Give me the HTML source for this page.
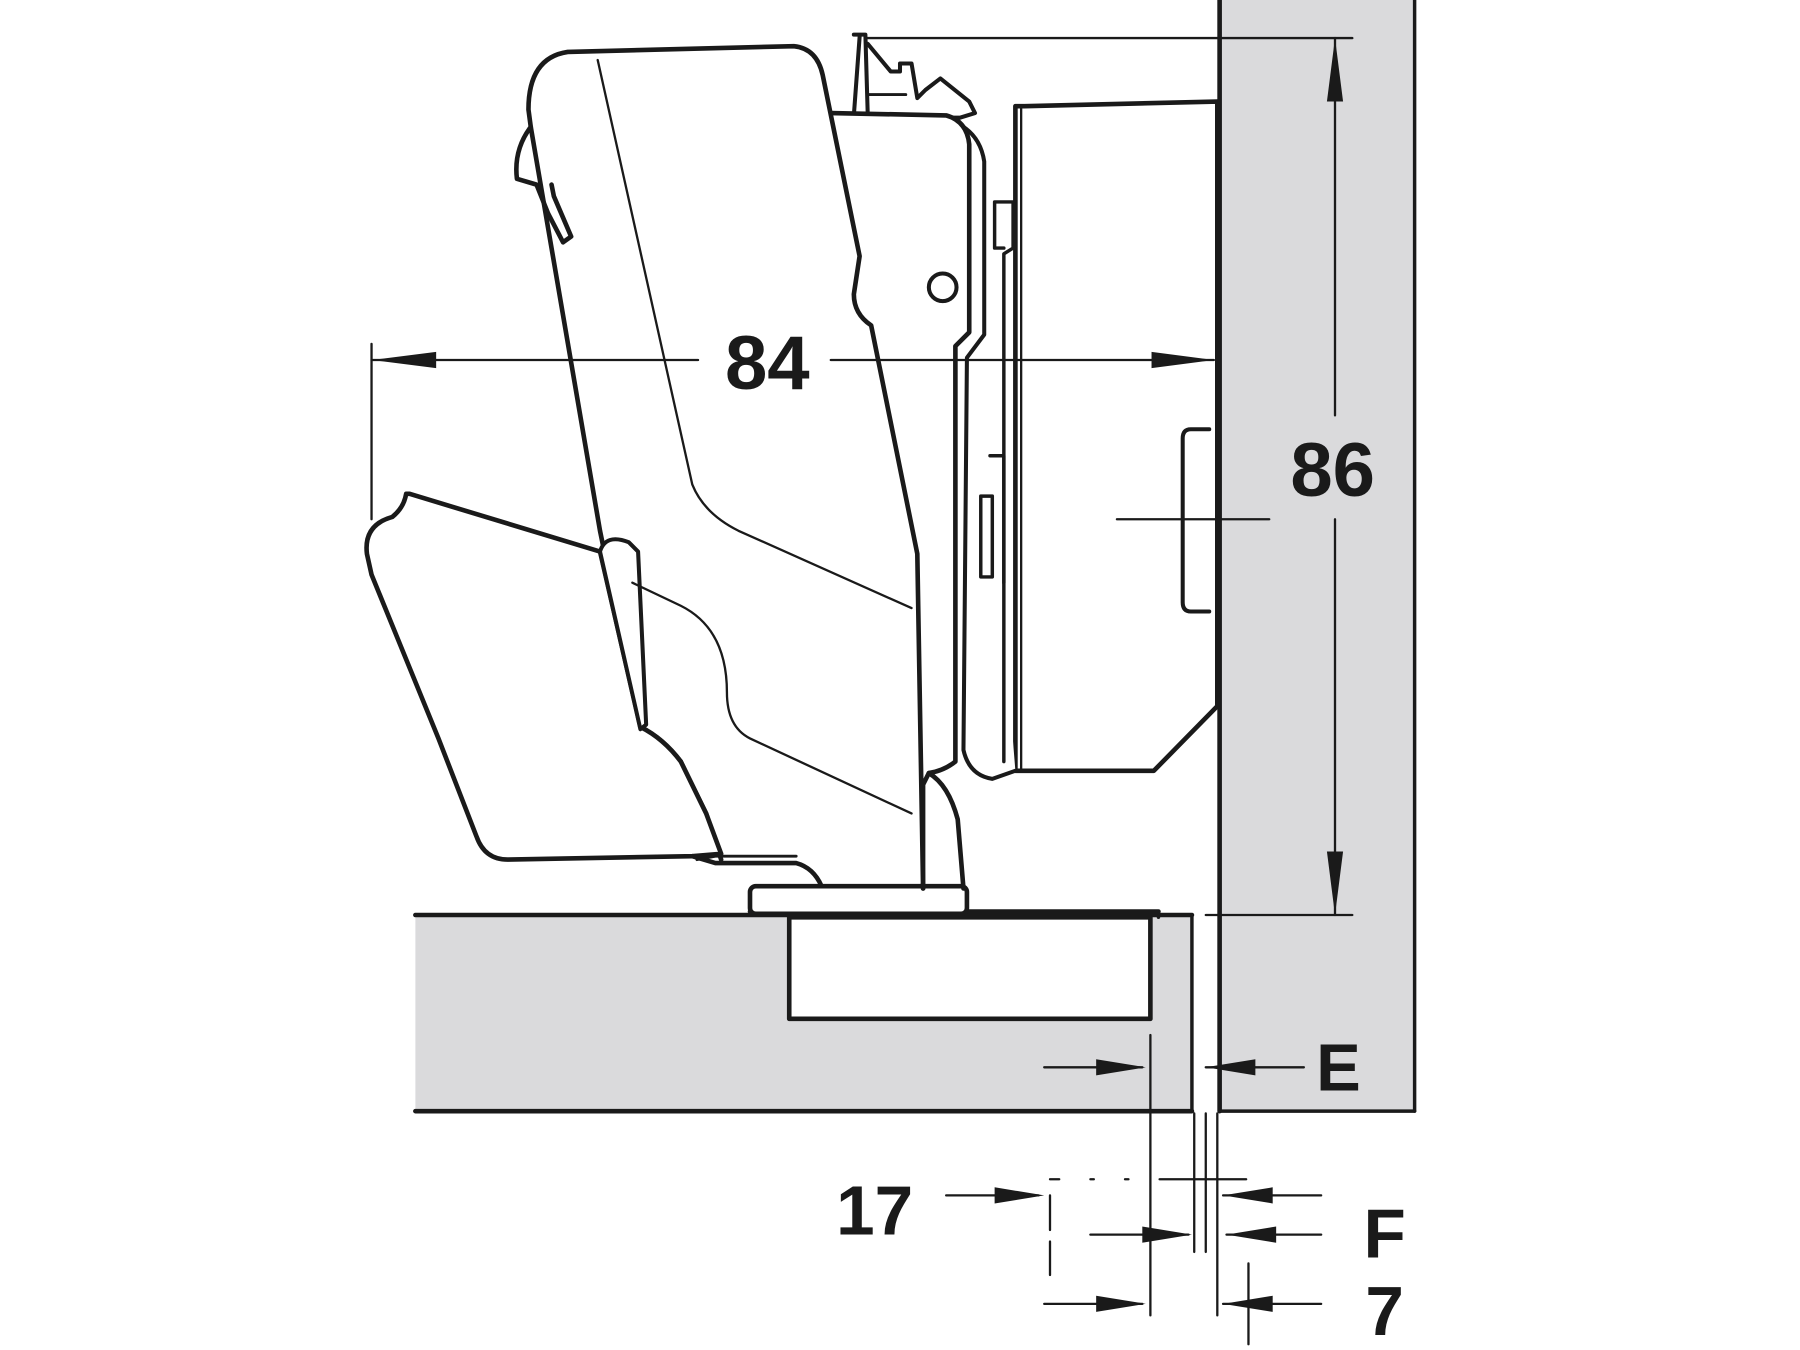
<!DOCTYPE html>
<html><head><meta charset="utf-8"><style>
html,body{margin:0;padding:0;background:#fff;}
svg{display:block}
text{font-family:"Liberation Sans",Arial,sans-serif;font-weight:bold;fill:#1a1a1a}
</style></head><body>
<svg width="1800" height="1350" viewBox="0 0 1560 1170" preserveAspectRatio="none" xmlns="http://www.w3.org/2000/svg">
<g fill="none" stroke="#1a1a1a" stroke-linejoin="round" stroke-linecap="round">
<!-- gray panels -->
<rect x="1057" y="0" width="169" height="963" fill="#dadadc" stroke="none"/>
<rect x="360" y="793" width="673" height="170" fill="#dadadc" stroke="none"/>
<line x1="1057" y1="0" x2="1057" y2="963" stroke-width="4"/>
<line x1="1226" y1="0" x2="1226" y2="963" stroke-width="3"/>
<line x1="1057" y1="963" x2="1226" y2="963" stroke-width="3"/>
<line x1="360" y1="793" x2="1033" y2="793" stroke-width="4"/>
<line x1="360" y1="963" x2="1033" y2="963" stroke-width="4"/>
<line x1="1033" y1="793" x2="1033" y2="963" stroke-width="3"/>
<!-- cup -->
<rect x="684" y="795" width="313" height="88" fill="#fff" stroke-width="4"/>
<line x1="650" y1="790" x2="1004" y2="790" stroke-width="4"/>
<path d="M1004 790 L1004 795" stroke-width="3"/>
<!-- base plate -->
<rect x="650" y="768" width="188" height="24" rx="5" fill="#fff" stroke-width="4"/>
<!-- right hinge body -->
<path d="M888 92 L1055 88 L1055 612 L1000 668 L880 668 L880 92 Z" fill="#fff" stroke-width="4"/>
<path d="M1048 372 L1032 372 Q1025 372 1025 380 L1025 522 Q1025 530 1032 530 L1048 530" stroke-width="3.5"/>
<!-- middle plate -->
<path d="M835 110 Q850 120 853 140 L853 290 L838 310 L835 650 Q840 672 860 675 L880 668" fill="#fff" stroke-width="3.5"/>
<path d="M862 175 L878 175 L878 215 L870 220 L870 660 M862 175 L862 215 L870 215" stroke-width="3"/>
<path d="M858 395 L870 395 L870 505 M850 430 L850 500 L860 500 L860 430 Z" stroke-width="3"/>
<path d="M885 92 L885 668" stroke-width="2"/>
<!-- top mechanism -->
<path d="M740 30 L750 30 L752 98 M745 32 L740 100 M752 38 L772 62 L780 62 L780 55 L790 55 L795 85 L802 78 L815 68 L840 88 L845 98 L832 102 L720 102" stroke-width="3.5"/>
<path d="M752 82 L785 82" stroke-width="2.5"/>
<!-- main arm -->
<path d="M720 98 L820 100 Q838 105 840 125 L840 288 L828 300 L828 660 Q818 668 805 670 L800 680 L800 770" fill="#fff" stroke-width="4"/>
<path d="M492 45 L688 40 Q708 42 713 65 L745 222 L740 255 Q740 272 755 282 L795 480 L800 770 M492 45 Q458 50 458 95 L460 110 Q445 130 448 155 L465 160 L475 185 L488 210 L495 205 L480 170 L478 160" fill="#fff" stroke-width="4"/>
<path d="M460 110 L520 460 L555 630 Q575 640 590 660 L612 705 Q620 730 625 745" stroke-width="4"/>
<path d="M518 52 L600 420 Q610 445 640 460 L790 527" stroke-width="2"/>
<path d="M805 670 Q822 680 830 710 L835 770" stroke-width="4"/>
<circle cx="817" cy="249" r="12" stroke-width="3.5"/>
<!-- lower cover -->
<path d="M355 428 L520 478 L555 630 Q575 640 590 660 L612 705 L625 740 L600 742 L440 745 Q420 745 413 725 L380 640 L322 498 L318 480 Q315 455 340 448 Q350 440 352 428 Z" fill="#fff" stroke-width="4"/>
<path d="M520 478 Q525 462 545 470 L553 478 L560 628 L555 632 Z" fill="#fff" stroke-width="3.5"/>
<path d="M548 505 L590 525 Q630 545 630 600 Q630 630 650 640 L790 705" stroke-width="2"/>
<path d="M600 742 L620 748 L690 748 Q705 752 712 768" stroke-width="4"/>
<path d="M604 745 L620 742 L690 742" stroke-width="2.5"/>
<!-- dimension 84 -->
<line x1="322" y1="298" x2="322" y2="450" stroke-width="2"/>
<line x1="322" y1="312" x2="605" y2="312" stroke-width="2"/>
<line x1="720" y1="312" x2="1052" y2="312" stroke-width="2"/>
<path d="M322 312 L378 305 L378 319 Z M1052 312 L998 305 L998 319 Z" fill="#1a1a1a" stroke="none"/>
<!-- dimension 86 -->
<line x1="750" y1="33" x2="1172" y2="33" stroke-width="2"/>
<line x1="1045" y1="793" x2="1172" y2="793" stroke-width="2"/>
<line x1="1157" y1="33" x2="1157" y2="360" stroke-width="2"/>
<line x1="1157" y1="450" x2="1157" y2="793" stroke-width="2"/>
<path d="M1157 33 L1150 88 L1164 88 Z M1157 793 L1150 738 L1164 738 Z" fill="#1a1a1a" stroke="none"/>
<line x1="968" y1="450" x2="1100" y2="450" stroke-width="2"/>
<!-- E -->
<line x1="905" y1="925" x2="990" y2="925" stroke-width="2"/>
<path d="M993 925 L950 918 L950 932 Z" fill="#1a1a1a" stroke="none"/>
<line x1="997" y1="897" x2="997" y2="1140" stroke-width="2"/>
<line x1="1045" y1="925" x2="1130" y2="925" stroke-width="2"/>
<path d="M1045 925 L1088 918 L1088 932 Z" fill="#1a1a1a" stroke="none"/>
<!-- lower dims -->
<line x1="1035" y1="965" x2="1035" y2="1085" stroke-width="2"/>
<line x1="1045" y1="965" x2="1045" y2="1085" stroke-width="2"/>
<line x1="1055" y1="965" x2="1055" y2="1140" stroke-width="2"/>
<line x1="1082" y1="1095" x2="1082" y2="1165" stroke-width="2"/>
<line x1="1005" y1="1022" x2="1080" y2="1022" stroke-width="2"/>
<line x1="820" y1="1036" x2="900" y2="1036" stroke-width="2"/>
<path d="M905 1036 L862 1029 L862 1043 Z" fill="#1a1a1a" stroke="none"/>
<path d="M910 1022 L918 1022 M945 1022 L948 1022 M975 1022 L978 1022" stroke-width="2"/>
<line x1="910" y1="1036" x2="910" y2="1105" stroke-width="2" stroke-dasharray="30 10"/>
<line x1="945" y1="1070" x2="1030" y2="1070" stroke-width="2"/>
<path d="M1033 1070 L990 1063 L990 1077 Z" fill="#1a1a1a" stroke="none"/>
<line x1="905" y1="1130" x2="990" y2="1130" stroke-width="2"/>
<path d="M993 1130 L950 1123 L950 1137 Z" fill="#1a1a1a" stroke="none"/>
<line x1="1060" y1="1036" x2="1145" y2="1036" stroke-width="2"/>
<path d="M1060 1036 L1103 1029 L1103 1043 Z" fill="#1a1a1a" stroke="none"/>
<line x1="1063" y1="1070" x2="1145" y2="1070" stroke-width="2"/>
<path d="M1063 1070 L1106 1063 L1106 1077 Z" fill="#1a1a1a" stroke="none"/>
<line x1="1060" y1="1130" x2="1145" y2="1130" stroke-width="2"/>
<path d="M1060 1130 L1103 1123 L1103 1137 Z" fill="#1a1a1a" stroke="none"/>
</g>
<text x="665" y="337" font-size="66" text-anchor="middle">84</text>
<text x="1155" y="430" font-size="66" text-anchor="middle">86</text>
<text x="1160" y="945" font-size="58" text-anchor="middle">E</text>
<text x="758" y="1070" font-size="60" text-anchor="middle">17</text>
<text x="1200" y="1090" font-size="60" text-anchor="middle">F</text>
<text x="1200" y="1157" font-size="60" text-anchor="middle">7</text>
</svg>
</body></html>
